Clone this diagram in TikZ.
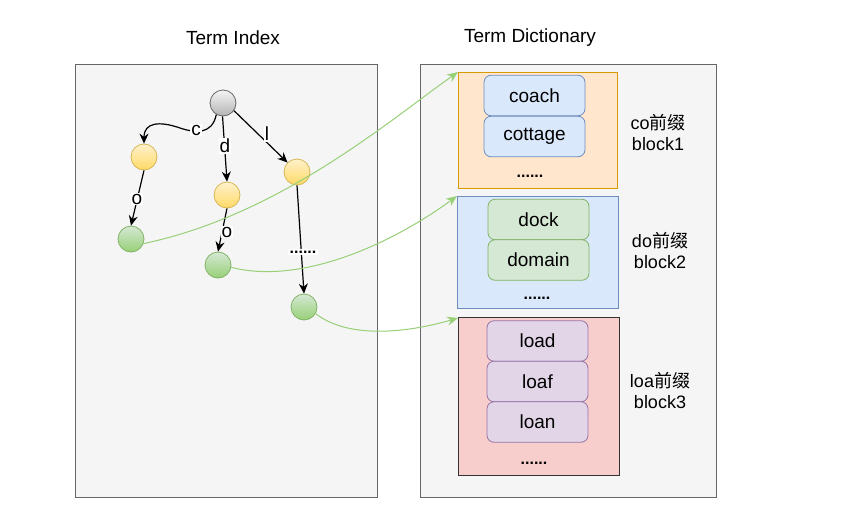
\documentclass[tikz,border=0pt]{standalone}
\usepackage{fontspec}
\setmainfont{Liberation Sans}
\newfontfamily\cjk{Noto Sans CJK SC}
\usetikzlibrary{arrows.meta}
\definecolor{panelfill}{HTML}{F5F5F5}
\definecolor{panelline}{HTML}{666666}
\definecolor{orfill}{HTML}{FFE6CC}
\definecolor{orline}{HTML}{D79B00}
\definecolor{blfill}{HTML}{DAE8FC}
\definecolor{blline}{HTML}{6C8EBF}
\definecolor{grfill}{HTML}{D5E8D4}
\definecolor{grline}{HTML}{82B366}
\definecolor{rdfill}{HTML}{F8CECC}
\definecolor{pufill}{HTML}{E1D5E7}
\definecolor{puline}{HTML}{9673A6}
\definecolor{yeltop}{HTML}{FFF2CC}
\definecolor{yelbot}{HTML}{FFD966}
\definecolor{yelline}{HTML}{D6B656}
\definecolor{grtop}{HTML}{D5E8D4}
\definecolor{grbot}{HTML}{97D077}
\definecolor{gytop}{HTML}{F5F5F5}
\definecolor{gybot}{HTML}{B3B3B3}
\begin{document}
\begin{tikzpicture}[x=1pt,y=-1pt,
  panel/.style={draw=panelline,fill=panelfill,line width=0.9pt},
  blockbox/.style={line width=0.9pt},
  item/.style={draw,rounded corners=7pt,line width=0.8pt,minimum width=101pt,minimum height=40.5pt,font=\fontsize{19}{22}\selectfont},
  circ/.style={circle,minimum size=26pt,inner sep=0pt,line width=0.8pt},
  gycirc/.style={circ,draw=panelline,top color=gytop,bottom color=gybot},
  yecirc/.style={circ,draw=yelline,top color=yeltop,bottom color=yelbot},
  grcirc/.style={circ,draw=grline,top color=grtop,bottom color=grbot},
  tedge/.style={-{Stealth[length=10pt,width=9pt]},line width=1.2pt},
  elabel/.style={fill=white,inner sep=1pt,font=\fontsize{19}{22}\selectfont},
  gedge/.style={-{Stealth[length=11pt,width=9pt]},draw=grbot,line width=1pt},
  title/.style={font=\fontsize{19}{22}\selectfont},
  side/.style={align=center,font=\fontsize{18}{21}\selectfont},
  dots/.style={font=\bfseries\fontsize{16}{20}\selectfont}
]
\useasboundingbox (0,0) rectangle (864,514);
\fill[white] (0,0) rectangle (864,514);
% titles
\node[title] (t1) at (233,38) {Term Index};
\node[title] (t2) at (530,38) {Term Dictionary};
% panels
\draw[panel] (75,64) rectangle (377,497);
\draw[panel] (420,64) rectangle (716,497);
% blocks
\draw[blockbox,draw=orline,fill=orfill] (458,72) rectangle (617,188);
\draw[blockbox,draw=blline,fill=blfill] (457,196) rectangle (618,308);
\draw[blockbox,draw=black!80,fill=rdfill] (458,317) rectangle (619,475);
\coordinate (b1) at (458,72);
\coordinate (b2) at (457,196);
\coordinate (b3) at (458,318);
% items
\node[item,draw=blline,fill=blfill] (coach) at (534.5,95.5) {coach};
\node[item,draw=blline,fill=blfill] (cottage) at (534.5,136.5) {cottage};
\node[dots] (d1) at (530,176) {......};
\node[item,draw=grline,fill=grfill] (dock) at (538.5,219.5) {dock};
\node[item,draw=grline,fill=grfill] (domain) at (538.5,260) {domain};
\node[dots] (d2) at (537,298) {......};
\node[item,draw=puline,fill=pufill] (load) at (537.5,341) {load};
\node[item,draw=puline,fill=pufill] (loaf) at (537.5,381.5) {loaf};
\node[item,draw=puline,fill=pufill] (loan) at (537.5,422) {loan};
\node[dots] (d3) at (534,463) {......};
% side labels
\node[side] (s1) at (658,132) {co{\cjk 前缀}\\block1};
\node[side] (s2) at (660,250) {do{\cjk 前缀}\\block2};
\node[side] (s3) at (660,390) {loa{\cjk 前缀}\\block3};
% trie
\node[gycirc] (root) at (223,103) {};
\node[yecirc] (nc) at (144,157) {};
\node[yecirc] (nd) at (227,195) {};
\node[yecirc] (nl) at (297,172) {};
\node[grcirc] (nco) at (131,239) {};
\node[grcirc] (ndo) at (218,265) {};
\node[grcirc] (nloa) at (304,307) {};
\draw[tedge] (root.240) .. controls (212,135) and (195,133) .. (180,128) .. controls (160,121) and (144,122) .. (nc.north);
\node[elabel] (lc) at (196,130) {c};
\draw[tedge] (root.268) -- (nd.north);
\node[elabel] (ld) at (225,146) {d};
\draw[tedge] (root.-35) -- (nl.135);
\node[elabel] (ll) at (267,134) {l};
\draw[tedge] (nc.south) -- (nco.north);
\node[elabel] (lo1) at (137,199) {o};
\draw[tedge] (nd.south) -- (ndo.north);
\node[elabel] (lo2) at (227,232) {o};
\draw[tedge] (nl.south) -- (nloa.north);
\node[elabel,font=\bfseries\fontsize{16}{20}\selectfont,inner sep=2pt] (ldots) at (303,252) {......};
% green connectors
\draw[gedge] (nco.-20) .. controls (280,215) and (390,120) .. (b1);
\draw[gedge] (ndo.-10) .. controls (300,285) and (390,245) .. (b2);
\draw[gedge] (nloa.-30) .. controls (350,340) and (410,332) .. (b3);
\end{tikzpicture}
\end{document}
